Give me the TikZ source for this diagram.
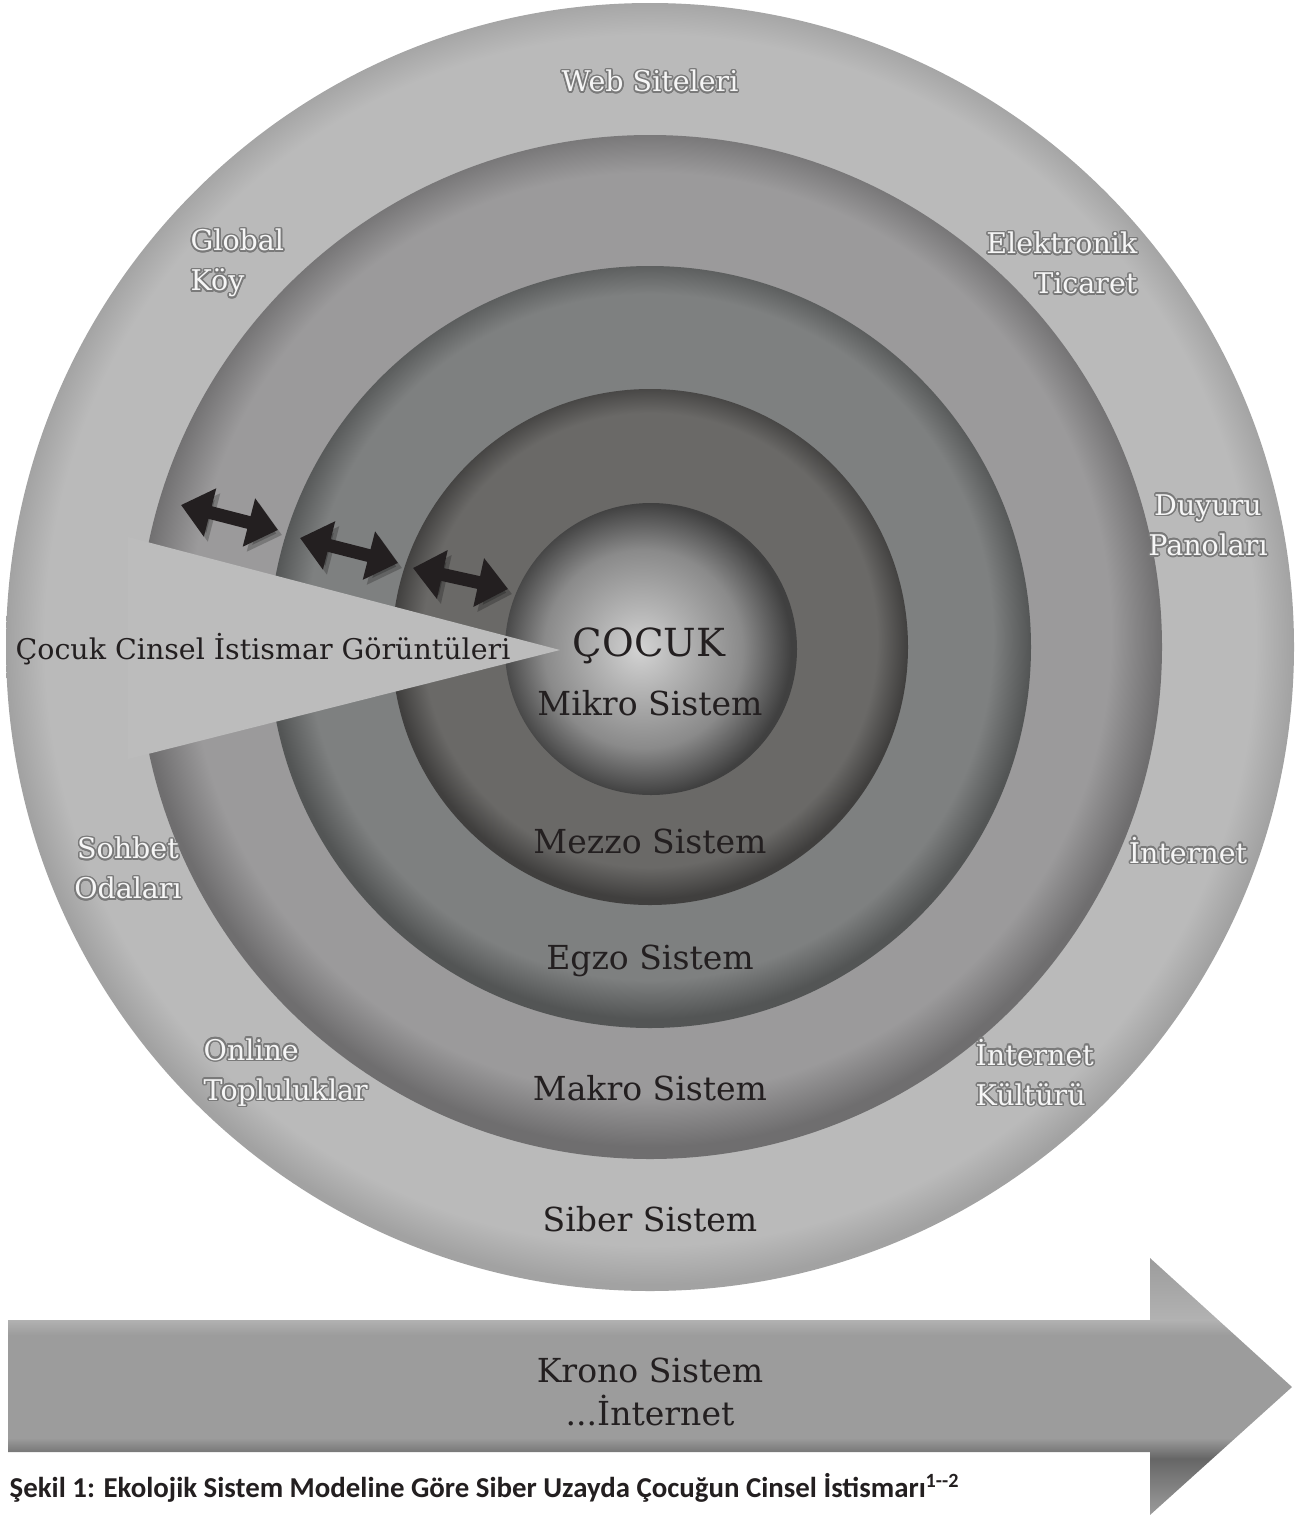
\documentclass[tikz,border=0pt]{standalone}
\usepackage{fontspec}
\setmainfont{DejaVu Serif}
\newfontfamily\capfont{Carlito}
\usepackage{contour}
\contourlength{0.45pt}
\contournumber{16}
\usetikzlibrary{arrows.meta}

\definecolor{siberin}{HTML}{BABABA}
\definecolor{siberout}{HTML}{A2A2A2}
\definecolor{makroin}{HTML}{9B9A9B}
\definecolor{makroout}{HTML}{6F6E6F}
\definecolor{egzoin}{HTML}{7E8080}
\definecolor{egzoout}{HTML}{535555}
\definecolor{mezzoin}{HTML}{6A6967}
\definecolor{mezzoout}{HTML}{403F3E}
\definecolor{ballhi}{HTML}{D3D3D3}
\definecolor{ballmid}{HTML}{B4B4B4}
\definecolor{ballshade}{HTML}{8A8A8A}
\definecolor{balledge}{HTML}{404040}
\definecolor{wedgegray}{HTML}{BCBCBC}
\definecolor{arrowblack}{HTML}{231F20}
\definecolor{txtdark}{HTML}{231F20}
\definecolor{txtlight}{HTML}{F6F6F6}
\definecolor{glowgray}{HTML}{7A7A7A}
\definecolor{kronotop}{HTML}{B2B2B2}
\definecolor{kronomid}{HTML}{9C9C9C}
\definecolor{kronolow}{HTML}{666666}

\newcommand{\glowtxt}[1]{\contour{glowgray}{#1}}

\pgfdeclareradialshading{siberfill}{\pgfpoint{0bp}{0.5bp}}{color(0bp)=(siberin); color(23.5bp)=(siberin); color(25bp)=(siberout); color(50bp)=(siberout)}
\pgfdeclareradialshading{makrofill}{\pgfpoint{0bp}{1.2bp}}{color(0bp)=(makroin); color(22.5bp)=(makroin); color(25bp)=(makroout); color(50bp)=(makroout)}
\pgfdeclareradialshading{egzofill}{\pgfpoint{0bp}{1.2bp}}{color(0bp)=(egzoin); color(22.5bp)=(egzoin); color(25bp)=(egzoout); color(50bp)=(egzoout)}
\pgfdeclareradialshading{mezzofill}{\pgfpoint{0bp}{1.2bp}}{color(0bp)=(mezzoin); color(22bp)=(mezzoin); color(25bp)=(mezzoout); color(50bp)=(mezzoout)}
\pgfdeclareradialshading{mikrofill}{\pgfpoint{-2bp}{0bp}}{color(0bp)=(ballhi); color(7bp)=(ballmid); color(17bp)=(ballshade); color(25bp)=(balledge); color(50bp)=(balledge)}
\pgfdeclareverticalshading{kronofill}{100bp}{color(0bp)=(kronolow); color(25bp)=(kronomid); color(36bp)=(kronolow); color(40bp)=(kronomid); color(60bp)=(kronomid); color(63bp)=(kronotop); color(75bp)=(kronomid); color(100bp)=(kronomid)}

\tikzset{
  outerlbl/.style={text=txtlight, font=\fontsize{8.1}{11.4}\selectfont, align=center, inner sep=0pt},
  syslbl/.style={text=txtdark, font=\fontsize{9.4}{11.4}\selectfont, align=center, inner sep=0pt},
  linkarrow/.style={draw=arrowblack, line width=0.13cm,
    {Triangle[length=0.3cm,width=0.48cm]}-{Triangle[length=0.3cm,width=0.48cm]},
    preaction={draw=black, opacity=0.22, transform canvas={shift={(4,5)}}}},
  captionlbl/.style={text=txtdark, font=\capfont\bfseries\fontsize{8.2}{10}\selectfont, inner sep=0pt}
}

\begin{document}
\begin{tikzpicture}[x=0.01cm, y=-0.01cm]
  \useasboundingbox (0,0) rectangle (1298,1515);

  % halkalar
  \shade[shading=siberfill] (650,647) circle (644);
  \shade[shading=makrofill] (650,647) circle (512);
  \shade[shading=egzofill] (650,647) circle (381);
  \shade[shading=mezzofill] (650,647) circle (258);
  \shade[shading=mikrofill] (651,649) circle (146);

  % kama
  \fill[wedgegray] (560,650) -- (128,537) -- (128,759) -- cycle;

  % oklar
  \coordinate (m1) at (181,505);
  \coordinate (m2) at (278,530);
  \coordinate (e1) at (300,538);
  \coordinate (e2) at (398,563);
  \coordinate (z1) at (413,568);
  \coordinate (z2) at (508,589);
  \draw[linkarrow] (m1) -- (m2);
  \draw[linkarrow] (e1) -- (e2);
  \draw[linkarrow] (z1) -- (z2);

  % dis halka yazilari
  \node[outerlbl] (web) at (650,82) {\glowtxt{Web Siteleri}};
  \node[outerlbl, align=left, anchor=west] (global) at (190,264) {\glowtxt{Global}\\\glowtxt{Köy}};
  \node[outerlbl, align=right, anchor=east] (ticaret) at (1138,264) {\glowtxt{Elektronik}\\\glowtxt{Ticaret}};
  \node[outerlbl] (pano) at (1208,526) {\glowtxt{Duyuru}\\\glowtxt{Panoları}};
  \node[outerlbl] (internet) at (1188,851) {\glowtxt{İnternet}};
  \node[outerlbl] (sohbet) at (128,869) {\glowtxt{Sohbet}\\\glowtxt{Odaları}};
  \node[outerlbl, align=left, anchor=west] (online) at (203,1073) {\glowtxt{Online}\\\glowtxt{Topluluklar}};
  \node[outerlbl, align=left, anchor=west] (kultur) at (975,1073) {\glowtxt{İnternet}\\\glowtxt{Kültürü}};

  % sistemler
  \node[syslbl] (siber) at (650,1219) {Siber Sistem};
  \node[syslbl] (makro) at (650,1088) {Makro Sistem};
  \node[syslbl] (egzo) at (650,961) {Egzo Sistem};
  \node[syslbl] (mezzo) at (650,841) {Mezzo Sistem};
  \node[syslbl] (mikro) at (650,703) {Mikro Sistem};
  \node[syslbl, font=\fontsize{11}{13}\selectfont] (cocuk) at (649,646) {ÇOCUK};
  \node[syslbl, font=\fontsize{8.1}{10}\selectfont] (istismar) at (263,649) {Çocuk Cinsel İstismar Görüntüleri};

  % zaman oku
  \shade[shading=kronofill] (8,1320) -- (1150,1320) -- (1150,1258) -- (1292,1387)
    -- (1150,1515) -- (1150,1452) -- (8,1452) -- cycle;
  \node[syslbl, font=\fontsize{9.4}{12.2}\selectfont] (krono) at (650,1392) {Krono Sistem\\...İnternet};

  \node[captionlbl, anchor=west] (sekil) at (9,1488) {Şekil 1: Ekolojik Sistem Modeline Göre Siber Uzayda Çocuğun Cinsel İstismarı\textsuperscript{1--2}};
\end{tikzpicture}
\end{document}
